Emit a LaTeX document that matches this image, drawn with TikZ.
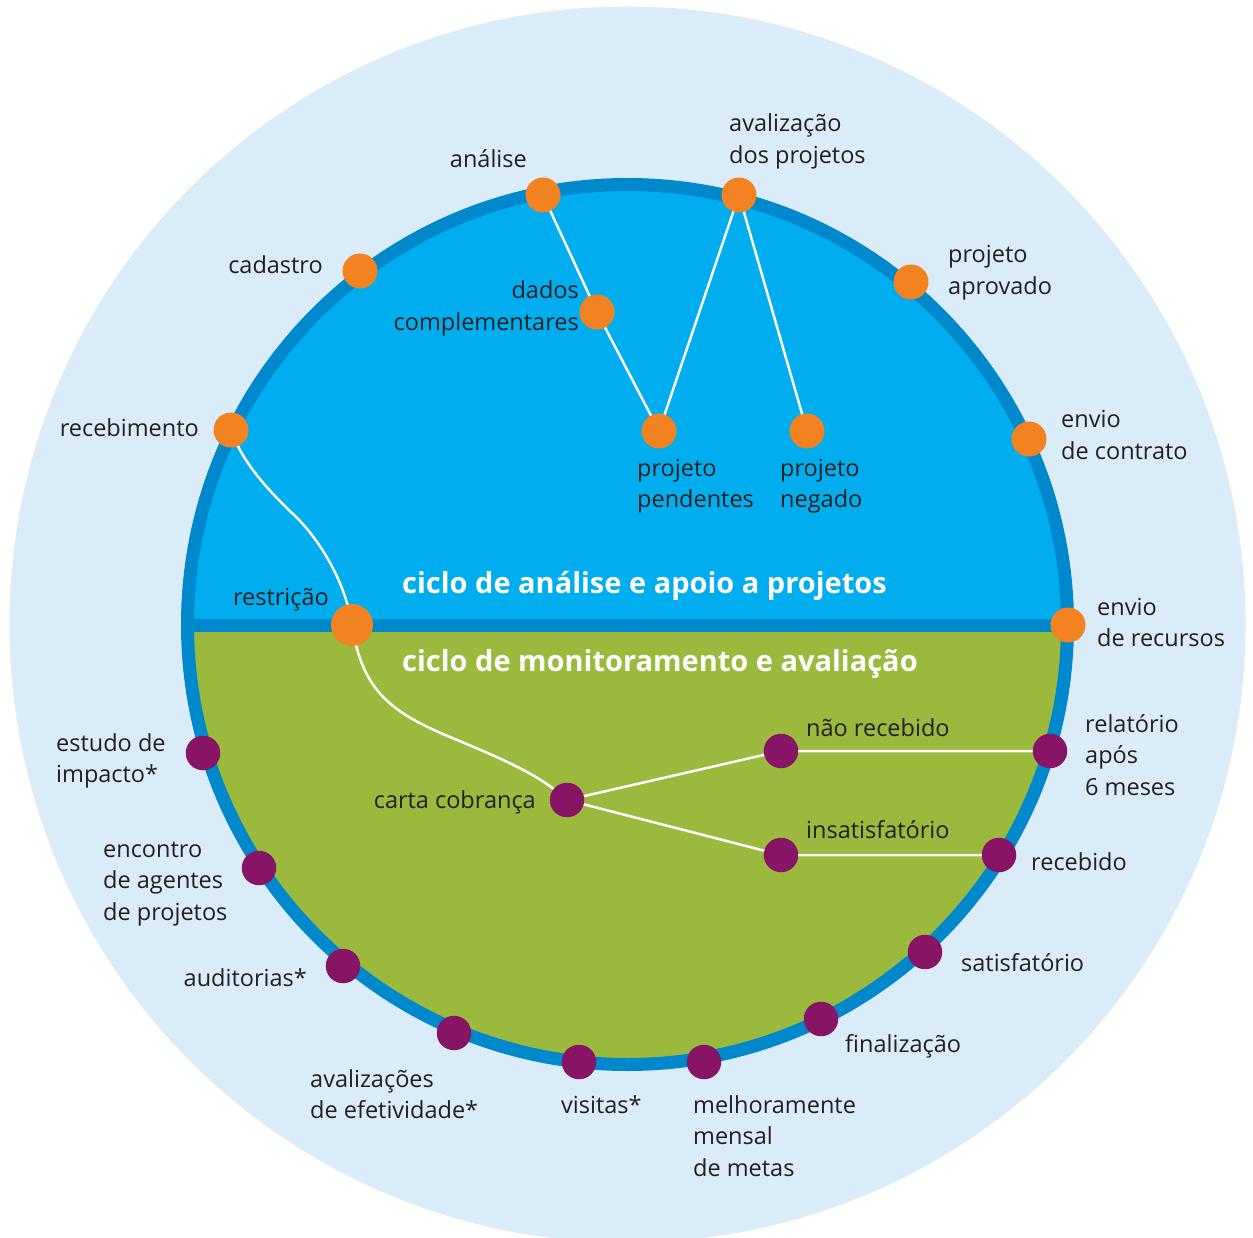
\documentclass[tikz,border=0pt]{standalone}
\usepackage{fontspec}
\setmainfont{Open Sans}
\definecolor{bgc}{HTML}{DAECF8}
\definecolor{ringc}{HTML}{0088CC}
\definecolor{topc}{HTML}{00AEEF}
\definecolor{botc}{HTML}{9BB93C}
\definecolor{orc}{HTML}{F38221}
\definecolor{puc}{HTML}{871464}
\definecolor{txc}{HTML}{231F20}
\tikzset{
  odot/.style={circle, fill=orc, inner sep=0pt, minimum size=35pt},
  pdot/.style={circle, fill=puc, inner sep=0pt, minimum size=34.5pt},
  link/.style={draw=white, line width=2.5pt},
  lbl/.style={text=txc, inner sep=0pt, align=left, font=\fontsize{23.5}{31.7}\selectfont},
  ttl/.style={text=white, inner sep=0pt, font=\bfseries\fontsize{29}{34}\selectfont}
}
\begin{document}
\begin{tikzpicture}[x=1pt,y=-1pt]
\useasboundingbox (0,0) rectangle (1253,1238);
\clip (0,0) rectangle (1253,1238);
\fill[white] (0,0) rectangle (1253,1238);
\fill[bgc] (627.5,624.5) circle[radius=618pt];
\begin{scope}
  \clip (627.5,624.5) circle[radius=440pt];
  \fill[topc] (0,0) rectangle (1253,625);
  \fill[botc] (0,625) rectangle (1253,1238);
  \draw[ringc, line width=13pt] (0,625) -- (1253,625);
\end{scope}
\draw[ringc, line width=13pt] (627.5,624.5) circle[radius=440pt];

% coordinates of the dots
\coordinate (ana) at (543,195);
\coordinate (aval) at (739,195);
\coordinate (cad) at (360,271);
\coordinate (dad) at (597,312);
\coordinate (apr) at (911,282);
\coordinate (rec) at (231,430);
\coordinate (pen) at (659,431);
\coordinate (neg) at (807,431);
\coordinate (con) at (1029,439);
\coordinate (recu) at (1068,625);
\coordinate (restr) at (352,625);
\coordinate (est) at (203,753);
\coordinate (enc) at (259,868);
\coordinate (aud) at (343,966);
\coordinate (efe) at (454,1033);
\coordinate (vis) at (579,1062);
\coordinate (mel) at (704,1062);
\coordinate (fin) at (821,1019);
\coordinate (sat) at (925,952);
\coordinate (rbd) at (999,855);
\coordinate (rel) at (1050,751);
\coordinate (carta) at (567,800);
\coordinate (nrec) at (781,751);
\coordinate (ins) at (781,855);

% connectors
\draw[link] (ana) -- (dad) -- (pen) -- (aval) -- (neg);
\draw[link] (rec) .. controls (242,462) and (268,490) .. (292,513)
  .. controls (318,537) and (345,580) .. (restr);
\draw[link] (restr) .. controls (362,690) and (390,712) .. (450,737)
  .. controls (505,760) and (540,775) .. (carta);
\draw[link] (carta) -- (nrec) -- (rel);
\draw[link] (carta) -- (ins) -- (rbd);

% dots
\foreach \n in {ana,aval,cad,dad,apr,rec,pen,neg,con,recu}
  \node[odot] (d\n) at (\n) {};
\node[odot, minimum size=42pt] (drestr) at (restr) {};
\foreach \n in {est,enc,aud,efe,vis,mel,fin,sat,rbd,rel,carta,nrec,ins}
  \node[pdot] (d\n) at (\n) {};

% titles
\node[ttl, anchor=base west] (t1) at (402,593) {ciclo de análise e apoio a projetos};
\node[ttl, anchor=base west] (t2) at (402,671) {ciclo de monitoramento e avaliação};

% labels (base anchor = baseline of the last line)
\node[lbl, anchor=base east] (lana) at (527,168) {análise};
\node[lbl, anchor=base west] (laval) at (729,163.7) {avalização\\dos projetos};
\node[lbl, anchor=base east] (lcad) at (323,274) {cadastro};
\node[lbl, anchor=base east, align=right] (ldad) at (579,330.7) {dados\\complementares};
\node[lbl, anchor=base west] (lapr) at (948,294.7) {projeto\\aprovado};
\node[lbl, anchor=base east] (lrec) at (199,436) {recebimento};
\node[lbl, anchor=base west] (lpen) at (637,507.7) {projeto\\pendentes};
\node[lbl, anchor=base west] (lneg) at (780,507.7) {projeto\\negado};
\node[lbl, anchor=base west] (lcon) at (1061,459.7) {envio\\de contrato};
\node[lbl, anchor=base east] (lrestr) at (329,605) {restrição};
\node[lbl, anchor=base west] (lrecu) at (1097,646.7) {envio\\de recursos};
\node[lbl, anchor=base west] (lest) at (56,782.7) {estudo de\\impacto*};
\node[lbl, anchor=base west] (lnrec) at (806,736) {não recebido};
\node[lbl, anchor=base west] (lrel) at (1085,795.4) {relatório\\após\\6 meses};
\node[lbl, anchor=base east] (lcarta) at (536,808) {carta cobrança};
\node[lbl, anchor=base west] (lenc) at (103,920.4) {encontro\\de agentes\\de projetos};
\node[lbl, anchor=base west] (lins) at (806,838) {insatisfatório};
\node[lbl, anchor=base west] (lrbd) at (1031,870) {recebido};
\node[lbl, anchor=base east] (laud) at (307,986) {auditorias*};
\node[lbl, anchor=base west] (lsat) at (961,971) {satisfatório};
\node[lbl, anchor=base west] (lfin) at (845,1052) {finalização};
\node[lbl, anchor=base west] (lefe) at (310,1118.7) {avalizações\\de efetividade*};
\node[lbl, anchor=base west] (lvis) at (561,1113) {visitas*};
\node[lbl, anchor=base west] (lmel) at (693,1176.4) {melhoramente\\mensal\\de metas};
\end{tikzpicture}
\end{document}
